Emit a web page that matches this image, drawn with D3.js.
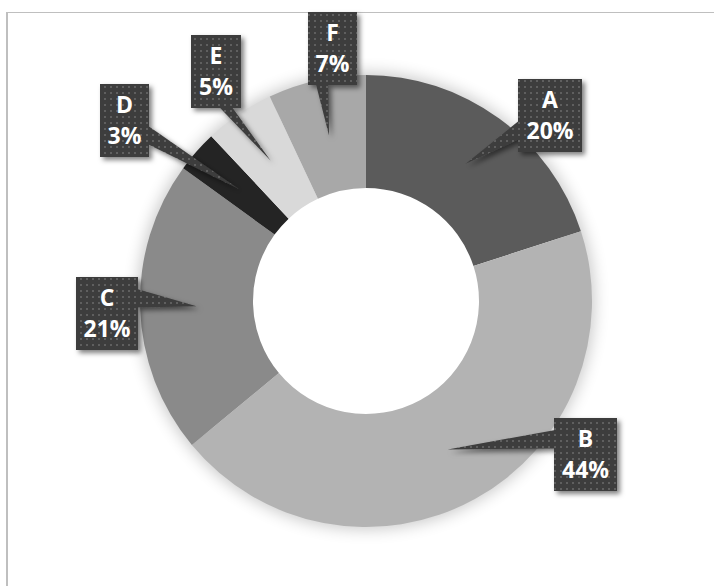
<!DOCTYPE html>
<html>
<head>
<meta charset="utf-8">
<script src="https://cdn.jsdelivr.net/npm/d3@7"></script>
<style>
  body { margin: 0; background: #fff; }
  svg { display: block; }
</style>
</head>
<body>
<div id="chart"></div>
<script>
// data
var categories = ["A", "B", "C", "D", "E", "F"];
var shares = [20, 44, 21, 3, 5, 7];
var sliceColors = ["#5b5b5b", "#b3b3b3", "#8a8a8a", "#242424", "#d9d9d9", "#a8a8a8"];

// callout boxes: left, top, width (layout only)
var calloutBoxes = [[518, 79, 64], [554, 418, 63], [76, 277, 62], [100, 84, 49], [191, 35, 50], [308, 12, 49]];
var boxHeight = 73;

var width = 714, height = 586;
var cx = 366, cy = 301;
var outerR = 226, innerR = 113;

var svg = d3.select("#chart").append("svg")
    .attr("width", width)
    .attr("height", height);

var defs = svg.append("defs");

var pat = defs.append("pattern")
    .attr("id", "dots")
    .attr("patternUnits", "userSpaceOnUse")
    .attr("width", 6)
    .attr("height", 6);
pat.append("rect").attr("width", 6).attr("height", 6).attr("fill", "#3d3d3d");
pat.append("rect").attr("x", 2).attr("y", 2).attr("width", 2).attr("height", 2).attr("fill", "#5f5f5f");

var sh = defs.append("filter").attr("id", "boxShadow")
    .attr("x", "-30%").attr("y", "-30%").attr("width", "160%").attr("height", "160%");
sh.append("feDropShadow").attr("dx", 3).attr("dy", 3)
    .attr("stdDeviation", 2.5).attr("flood-color", "#000").attr("flood-opacity", 0.5);

var glow = defs.append("filter").attr("id", "ringGlow")
    .attr("x", "-20%").attr("y", "-20%").attr("width", "140%").attr("height", "140%");
glow.append("feGaussianBlur").attr("stdDeviation", 8);

// frame
svg.append("line").attr("x1", 7).attr("x2", 7).attr("y1", 12).attr("y2", height)
    .attr("stroke", "#bfbfbf").attr("stroke-width", 2);
svg.append("line").attr("x1", 6).attr("x2", width).attr("y1", 12.5).attr("y2", 12.5)
    .attr("stroke", "#bfbfbf").attr("stroke-width", 1);

var pie = d3.pie().sort(null).value(d => d);
var arcs = pie(shares);

var arc = d3.arc().innerRadius(innerR).outerRadius(outerR);

var g = svg.append("g").attr("transform", "translate(" + cx + "," + cy + ")");

// soft halo round the ring
g.append("path")
    .attr("d", d3.arc().innerRadius(outerR - 18).outerRadius(outerR + 2)({ startAngle: 0, endAngle: 2 * Math.PI }))
    .attr("fill", "#000")
    .attr("opacity", 0.22)
    .attr("filter", "url(#ringGlow)");

g.selectAll("path.slice")
    .data(arcs)
    .join("path")
    .attr("class", "slice")
    .attr("d", arc)
    .attr("fill", (d, i) => sliceColors[i]);

function calloutPath(x, y, w, h, tx, ty) {
    var bx = x + w / 2, by = y + h / 2;
    var dxPos = tx - bx, dyPos = ty - by;
    var horiz = Math.abs(dxPos * h / w) > Math.abs(dyPos);
    var x1 = x + w * (dxPos > 0 ? 7 : 2) / 12, x2 = x + w * (dxPos > 0 ? 10 : 5) / 12;
    var y1 = y + h * (dyPos > 0 ? 7 : 2) / 12, y2 = y + h * (dyPos > 0 ? 10 : 5) / 12;
    var p = d3.path();
    p.moveTo(x, y);
    if (!horiz && dyPos < 0) { p.lineTo(x1, y); p.lineTo(tx, ty); p.lineTo(x2, y); }
    p.lineTo(x + w, y);
    if (horiz && dxPos > 0) { p.lineTo(x + w, y1); p.lineTo(tx, ty); p.lineTo(x + w, y2); }
    p.lineTo(x + w, y + h);
    if (!horiz && dyPos > 0) { p.lineTo(x2, y + h); p.lineTo(tx, ty); p.lineTo(x1, y + h); }
    p.lineTo(x, y + h);
    if (horiz && dxPos < 0) { p.lineTo(x, y2); p.lineTo(tx, ty); p.lineTo(x, y1); }
    p.closePath();
    return p.toString();
}

var labels = svg.append("g").selectAll("g")
    .data(arcs)
    .join("g");

labels.append("path")
    .attr("d", function (d, i) {
        var b = calloutBoxes[i];
        var c = arc.centroid(d);
        return calloutPath(b[0], b[1], b[2], boxHeight, cx + c[0], cy + c[1]);
    })
    .attr("fill", "url(#dots)")
    .attr("filter", "url(#boxShadow)");

var txt = labels.append("text")
    .attr("text-anchor", "middle")
    .attr("fill", "#fff")
    .style("font-family", "'Open Sans', sans-serif")
    .style("font-weight", "bold")
    .style("font-size", "23px");

txt.append("tspan")
    .attr("x", (d, i) => calloutBoxes[i][0] + calloutBoxes[i][2] / 2)
    .attr("y", (d, i) => calloutBoxes[i][1] + 29)
    .text((d, i) => categories[i]);

txt.append("tspan")
    .attr("x", (d, i) => calloutBoxes[i][0] + calloutBoxes[i][2] / 2)
    .attr("y", (d, i) => calloutBoxes[i][1] + 60)
    .text((d, i) => shares[i] + "%");
</script>
</body>
</html>
